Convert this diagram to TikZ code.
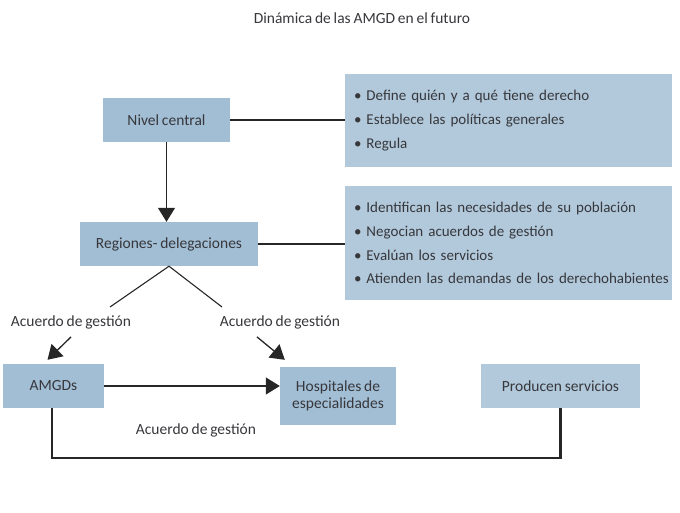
\documentclass[tikz,border=0pt]{standalone}
\usepackage{fontspec}
\setmainfont{Carlito}[WordSpace=0.8]
\usetikzlibrary{arrows.meta}
\definecolor{boxdark}{RGB}{162,190,212}
\definecolor{boxlight}{RGB}{177,201,219}
\definecolor{txtgray}{RGB}{55,55,60}
\newcommand{\itm}[1]{\mbox{\textbullet\ #1}}
\begin{document}
\begin{tikzpicture}[x=1pt, y=-1pt,
    every node/.style={text=txtgray, font=\fontsize{15.5}{17}\selectfont},
    box/.style={fill=boxdark, minimum height=44pt, inner sep=0pt},
    info/.style={fill=boxlight, align=left, inner xsep=9pt, inner ysep=0pt,
                 text width=309pt, font=\fontsize{15}{23.8}\selectfont},
    link/.style={line width=2.2pt, black!85},
    arr/.style={line width=1.3pt, black!85, -{Triangle[length=14pt,width=17pt]}}]

  \useasboundingbox (0,0) rectangle (680,512);

  \node (title) at (362,18) {Dinámica de las AMGD en el futuro};

  % main boxes
  \node[box, minimum width=127pt] (nivel) at (166.5,120) {Nivel central};
  \node[box, minimum width=178pt] (reg) at (169,244) {Regiones- delegaciones};
  \node[box, minimum width=101pt] (amgd) at (53.5,386) {AMGDs};
  \node[box, minimum width=116pt, minimum height=58pt, align=center] (hosp) at (338,396)
    {Hospitales de\\especialidades};
  \node[box, fill=boxlight, minimum width=159pt] (prod) at (560.5,386) {Producen servicios};

  % descriptions
  \node[info, minimum height=93pt] (info1) at (508.5,120.5)
    {\itm{Define quién y a qué tiene derecho}\\
     \itm{Establece las políticas generales}\\
     \itm{Regula}};
  \node[info, minimum height=114pt] (info2) at (508.5,243)
    {\itm{Identifican las necesidades de su población}\\
     \itm{Negocian acuerdos de gestión}\\
     \itm{Evalúan los servicios}\\
     \itm{Atienden las demandas de los derechohabientes}};

  \foreach \n/\x/\y in {lab1/71/322, lab2/280/322, lab3/196/430}
    \node[inner sep=2pt] (\n) at (\x,\y) {Acuerdo de gestión};

  \coordinate (s1) at (110,307);
  \coordinate (s2) at (222,307);

  \draw[link] (nivel.east) -- (nivel.east -| info1.west);
  \draw[link] (reg.east) -- (reg.east -| info2.west);
  \draw[arr] (nivel.south) -- (nivel.south |- reg.north);

  \draw[line width=1.1pt, black!85] (s1) -- (reg.south) -- (s2);
  \draw[arr] ([yshift=-6pt]lab1.south) -- ([xshift=-6pt,yshift=4pt]amgd.north);
  \draw[arr] ([xshift=-23pt,yshift=-6pt]lab2.south) -- ([xshift=5pt,yshift=7pt]hosp.north west);
  \draw[arr] (amgd.east) -- (amgd.east -| hosp.west);

  \draw[link] ([xshift=-1.5pt]amgd.south) -- ++(0,50) -| (prod.south);
\end{tikzpicture}
\end{document}
